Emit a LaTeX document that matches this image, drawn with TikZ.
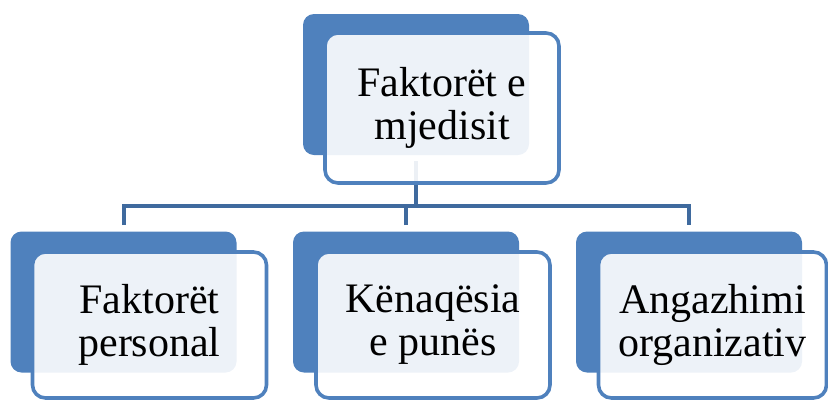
\documentclass[tikz,border=0pt]{standalone}
\usepackage{fontspec}
\setmainfont{Liberation Serif}
\newfontfamily\labelface{Liberation Serif}
\definecolor{accent}{HTML}{4F81BD}
\definecolor{linkblue}{HTML}{3F6A9E}
\begin{document}
\begin{tikzpicture}[x=1pt,y=-1pt,
  backbox/.style={draw=none, fill=accent, rounded corners=11pt,
    minimum width=226pt, minimum height=141pt, inner sep=0pt},
  frontbox/.style={draw=accent, line width=3.6pt, fill=white, fill opacity=0.9,
    text opacity=1, rounded corners=13pt, minimum width=234pt,
    minimum height=146pt, inner sep=0pt, align=center,
    font=\labelface\fontsize{42}{43}\selectfont},
  link/.style={draw=linkblue, line width=4pt}]
  \useasboundingbox (0,0) rectangle (828,400);

  % coloured back plates
  \node[backbox] (topback) at (416,84.5) {};
  \node[backbox] (lback) at (123.5,302) {};
  \node[backbox] (mback) at (406,302) {};
  \node[backbox] (rback) at (689,302) {};

  % connectors
  \coordinate (hub) at (416,206);
  \coordinate (lend) at (123.5,225);
  \coordinate (mend) at (406,225);
  \coordinate (rend) at (689,225);
  \draw[link] ([yshift=-6pt]topback.south) -- (hub);
  \draw[link] (lend) |- (hub) -| (rend);
  \draw[link] (mend) -- (mend |- hub);

  % front boxes with labels
  \node[frontbox, minimum height=150pt] (top) at (442,108) {Faktorët e\\mjedisit};
  \node[frontbox] (left) at (149.5,325) {Faktorët\\personal};
  \node[frontbox] (mid) at (433,325) {Kënaqësia\\e punës};
  \node[frontbox, minimum width=228pt] (right) at (712.5,325) {Angazhimi\\organizativ};
\end{tikzpicture}
\end{document}
